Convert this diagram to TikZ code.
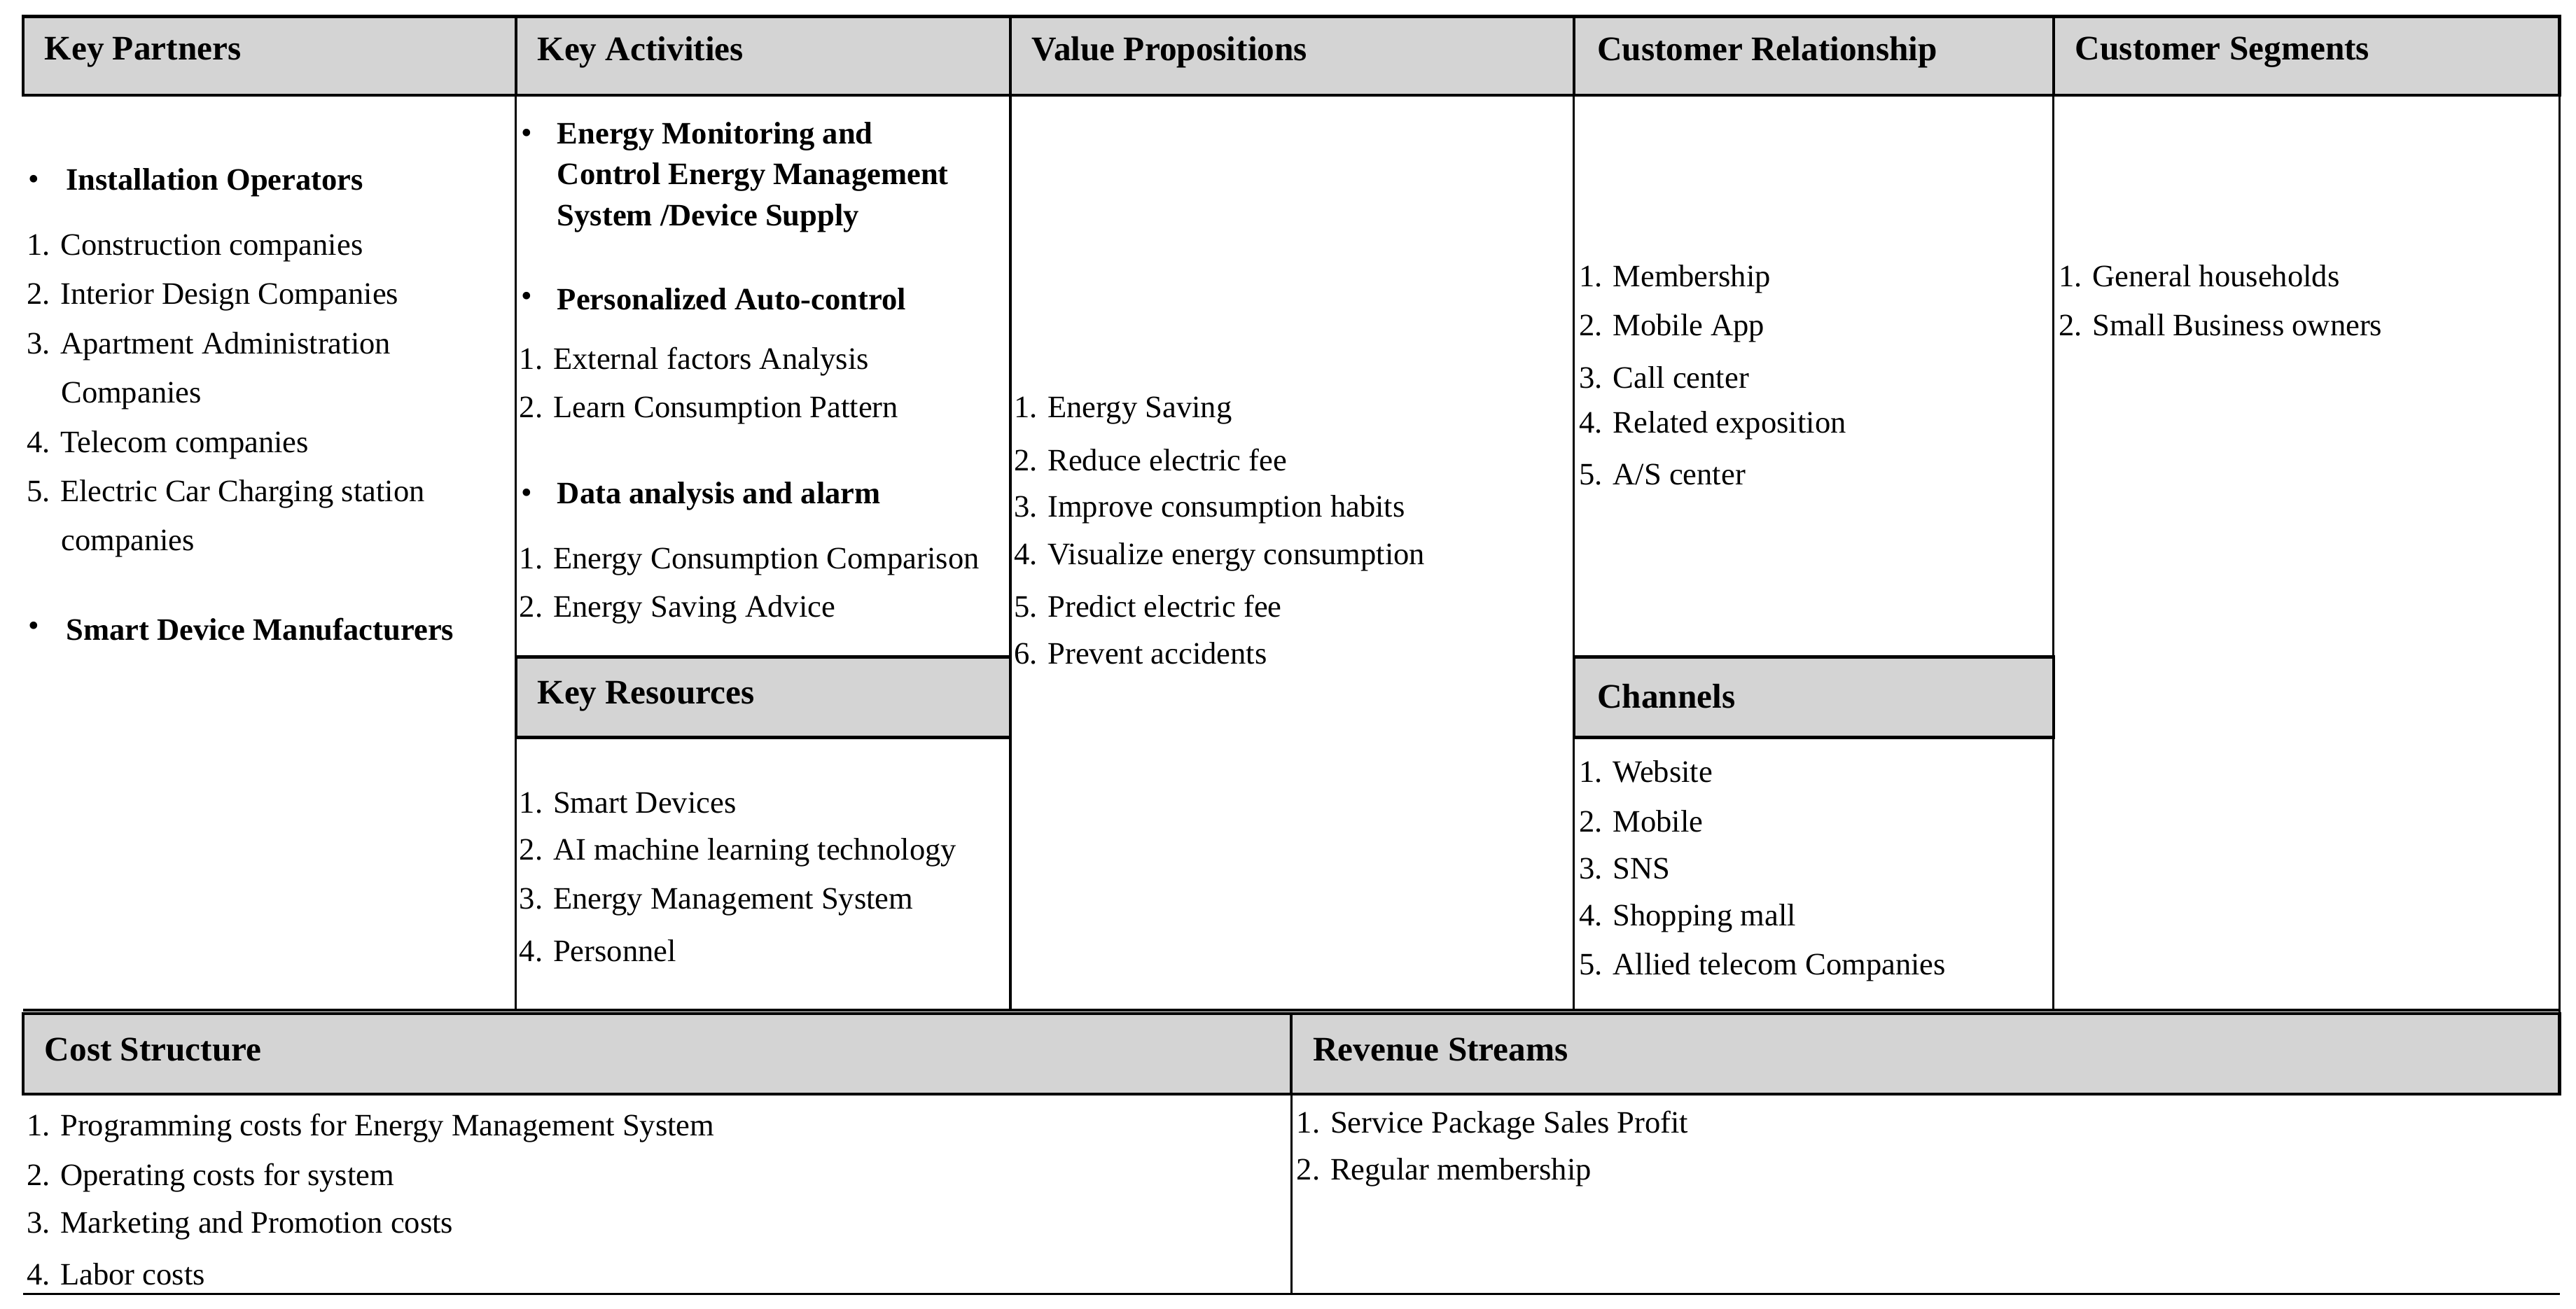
\documentclass[tikz,border=0pt]{standalone}
\usepackage{fontspec}
\setmainfont{Liberation Serif}
\begin{document}
\begin{tikzpicture}[x=1pt,y=-1pt,
  hdr/.style={draw=black,line width=1.8pt,fill=black!17},
  ht/.style={anchor=west,font=\fontsize{21}{24}\selectfont\bfseries,inner sep=0pt},
  it/.style={anchor=west,font=\fontsize{19}{22}\selectfont,inner sep=0pt},
  bt/.style={anchor=west,font=\fontsize{19}{22}\selectfont\bfseries,inner sep=0pt},
  ln/.style={line width=1.3pt}]
\useasboundingbox (0,0) rectangle (1568,797);
% headers
\draw[hdr] (14,10) rectangle (314,58);
\draw[hdr] (314,10) rectangle (615,58);
\draw[hdr] (615,10) rectangle (958,58);
\draw[hdr] (958,10) rectangle (1250,58);
\draw[hdr] (1250,10) rectangle (1558,58);
\draw[hdr] (314,400) rectangle (615,449);
\draw[hdr] (958,400) rectangle (1250,449);
\draw[hdr] (14,617) rectangle (786,666);
\draw[hdr] (786,617) rectangle (1558,666);
% body lines
\draw[ln] (314,58) -- (314,615);
\draw[ln] (615,58) -- (615,615);
\draw[ln] (958,58) -- (958,615);
\draw[ln] (1250,58) -- (1250,615);
\draw[ln] (1558,58) -- (1558,617);
\draw[ln] (14,615) -- (1558,615);
\draw[ln] (786,666) -- (786,788);
\draw[ln] (14,788) -- (1558,788);
% header texts
\node[ht] (h1) at (27,32) {Key Partners};
\node[ht] (h2) at (327,32) {Key Activities};
\node[ht] (h3) at (628,32) {Value Propositions};
\node[ht] (h4) at (972,32) {Customer Relationship};
\node[ht] (h5) at (1263,32) {Customer Segments};
\node[ht] (h6) at (327,424) {Key Resources};
\node[ht] (h7) at (972,424) {Channels};
\node[ht] (h8) at (27,639) {Cost Structure};
\node[ht] (h9) at (799,639) {Revenue Streams};
% Key Partners
\node[it] (kpb1) at (17,111) {•};
\node[bt] (kp0) at (40,111) {Installation Operators};
\node[it] (kp1) at (16,151) {1. Construction companies};
\node[it] (kp2) at (16,181) {2. Interior Design Companies};
\node[it] (kp3) at (16,211) {3. Apartment Administration};
\node[it] (kp3b) at (37,241) {Companies};
\node[it] (kp4) at (16,271) {4. Telecom companies};
\node[it] (kp5) at (16,301) {5. Electric Car Charging station};
\node[it] (kp5b) at (37,331) {companies};
\node[it] (kpb2) at (17,383) {•};
\node[bt] (kp6) at (40,383) {Smart Device Manufacturers};
% Key Activities
\node[it] (kab1) at (317,83) {•};
\node[bt] (ka1) at (339,83) {Energy Monitoring and};
\node[bt] (ka1b) at (339,108) {Control Energy Management};
\node[bt] (ka1c) at (339,133) {System /Device Supply};
\node[it] (kab2) at (317,182) {•};
\node[bt] (ka2) at (339,182) {Personalized Auto-control};
\node[it] (ka3) at (316,220) {1. External factors Analysis};
\node[it] (ka4) at (316,250) {2. Learn Consumption Pattern};
\node[it] (kab3) at (317,302) {•};
\node[bt] (ka5) at (339,302) {Data analysis and alarm};
\node[it] (ka6) at (316,342) {1. Energy Consumption Comparison};
\node[it] (ka7) at (316,371) {2. Energy Saving Advice};
% Key Resources
\node[it] (kr1) at (316,489) {1. Smart Devices};
\node[it] (kr2) at (316,519) {2. AI machine learning technology};
\node[it] (kr3) at (316,549) {3. Energy Management System};
\node[it] (kr4) at (316,579) {4. Personnel};
% Value Propositions
\node[it] (vp1) at (617,250) {1. Energy Saving};
\node[it] (vp2) at (617,280) {2. Reduce electric fee};
\node[it] (vp3) at (617,310) {3. Improve consumption habits};
\node[it] (vp4) at (617,339) {4. Visualize energy consumption};
\node[it] (vp5) at (617,369) {5. Predict electric fee};
\node[it] (vp6) at (617,398) {6. Prevent accidents};
% Customer Relationship
\node[it] (cr1) at (961,170) {1. Membership};
\node[it] (cr2) at (961,200) {2. Mobile App};
\node[it] (cr3) at (961,230) {3. Call center};
\node[it] (cr4) at (961,259) {4. Related exposition};
\node[it] (cr5) at (961,289) {5. A/S center};
% Channels
\node[it] (ch1) at (961,470) {1. Website};
\node[it] (ch2) at (961,500) {2. Mobile};
\node[it] (ch3) at (961,529) {3. SNS};
\node[it] (ch4) at (961,559) {4. Shopping mall};
\node[it] (ch5) at (961,589) {5. Allied telecom Companies};
% Customer Segments
\node[it] (cs1) at (1253,168) {1. General households};
\node[it] (cs2) at (1253,198) {2. Small Business owners};
% Cost Structure
\node[it] (co1) at (16,687) {1. Programming costs for Energy Management System};
\node[it] (co2) at (16,717) {2. Operating costs for system};
\node[it] (co3) at (16,746) {3. Marketing and Promotion costs};
\node[it] (co4) at (16,776) {4. Labor costs};
% Revenue Streams
\node[it] (rs1) at (789,685) {1. Service Package Sales Profit};
\node[it] (rs2) at (789,714) {2. Regular membership};
\end{tikzpicture}
\end{document}
